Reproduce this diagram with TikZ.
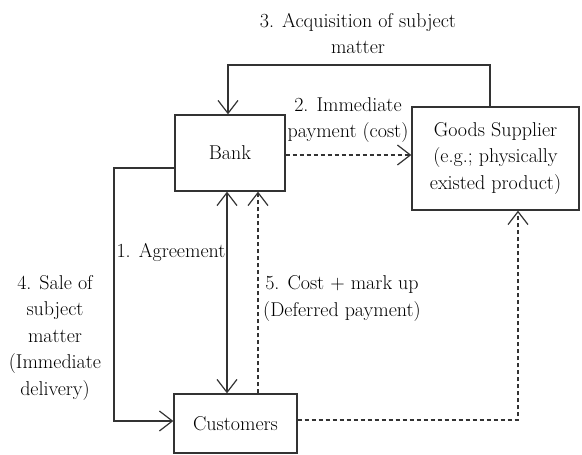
\documentclass[tikz,border=0pt]{standalone}
\usetikzlibrary{arrows.meta}
\begin{document}
\begin{tikzpicture}[x=1pt,y=-1pt,
  line width=1.2pt,
  every node/.style={font=\fontsize{20}{26.5}\selectfont, text=black},
  box/.style={draw=black!80, line width=1.3pt, inner sep=0pt, align=center},
  lbl/.style={align=center, inner sep=0pt},
  conn/.style={draw=black!80, -{Straight Barb[length=13pt,width=20pt]}},
  conn2/.style={draw=black!80, {Straight Barb[length=13pt,width=20pt]}-{Straight Barb[length=13pt,width=20pt]}},
  dsh/.style={dash pattern=on 4pt off 3pt}
]
\useasboundingbox (0,0) rectangle (582,455);
\node[box, minimum width=110pt, minimum height=76pt] (bank) at (230,153) {Bank};
\node[box, minimum width=167pt, minimum height=103pt] (gs) at (495.5,158.5) {Goods Supplier\\(e.g.; physically\\existed product)};
\node[box, minimum width=123pt, minimum height=59pt] (cust) at (235.5,423.5) {Customers};

\coordinate (c3a) at (490,65);
\coordinate (c3b) at (228,65);
\draw[conn] (gs.north -| c3a) -- (c3a) -- (c3b) -- (bank.north -| c3b);

\coordinate (y2) at (0,155);
\draw[conn,dsh] (bank.east |- y2) -- (gs.west |- y2);

\coordinate (x1) at (227,0);
\draw[conn2] (bank.south -| x1) -- (cust.north -| x1);

\coordinate (x5) at (258,0);
\draw[conn,dsh] (cust.north -| x5) -- (bank.south -| x5);

\coordinate (l1) at (114,168);
\coordinate (l2) at (114,421);
\draw[conn] (bank.west |- l1) -- (l1) -- (l2) -- (cust.west |- l2);

\coordinate (r1) at (518,420);
\draw[conn,dsh] (cust.east |- r1) -- (r1) -- (gs.south -| r1);

\node[lbl] (t3) at (358,33.5) {3. Acquisition of subject\\matter};
\node[lbl] (t2) at (348,120) {2. Immediate\\payment (cost)};
\node[lbl] (t1) at (171,252) {1. Agreement};
\node[lbl] (t4) at (55,337.5) {4. Sale of\\subject\\matter\\(Immediate\\delivery)};
\node[lbl] (t5) at (342,298.5) {5. Cost + mark up\\(Deferred payment)};
\end{tikzpicture}
\end{document}
